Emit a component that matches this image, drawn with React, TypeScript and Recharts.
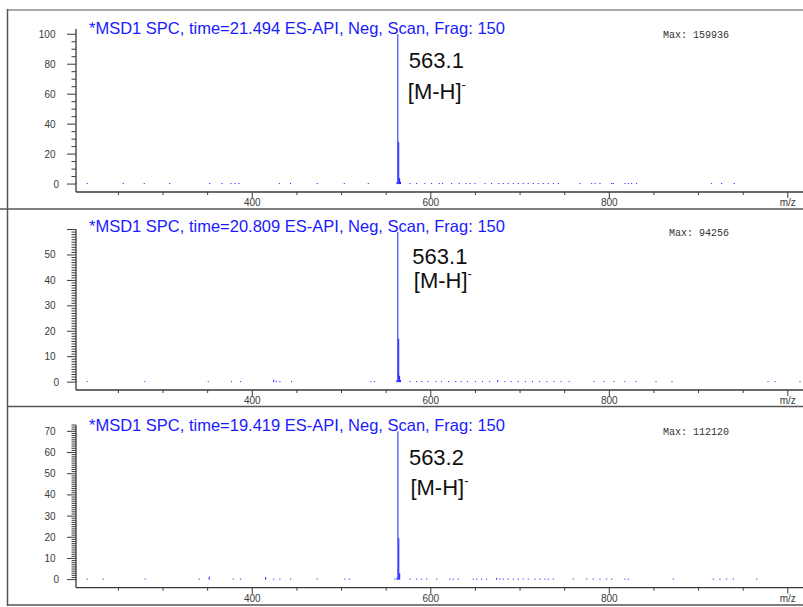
import React from 'react';
import { BarChart, Bar, XAxis, YAxis, LabelList } from 'recharts';

const SANS = "'Liberation Sans', Arial, Helvetica, sans-serif";
const MONO = "'Liberation Mono', 'Courier New', monospace";
const INK = '#3a3a3a';
const TRACE = '#1a1aff';
const TITLE = '#1a1aff';

// m/z axis: minor ticks every 50, labels at 400/600/800, axis name at 1000
const mzTicks = [250, 300, 350, 400, 450, 500, 550, 600, 650, 700, 750, 800, 850, 900, 950, 1000];
const mzLabelled = [400, 600, 800];
const mzDomain: [number, number] = [202.5, 1017];

// scan headers
const scanTimes = ['21.494', '20.809', '19.419'];
const scanMax = [159936, 94256, 112120];
const ionTag = '[M-H]';

// [m/z, relative abundance] sticks for each scan
const scan1Peaks: [number, number][] = [
  [202.5, 0.7], [215.1, 0.7], [255.5, 0.7], [279.0, 0.7], [307.5, 0.7], [352.3, 0.7],
  [366.0, 0.7], [376.1, 0.7], [380.6, 0.7], [385.1, 0.7], [430.3, 0.7], [443.0, 0.7],
  [472.8, 0.7], [503.1, 0.7], [530.0, 0.7], [562.1, 1.2], [563.1, 100], [564.1, 28],
  [565.1, 4.0], [566.1, 1.5], [576.7, 0.7], [584.2, 0.7], [593.5, 0.7], [601.0, 0.7],
  [609.5, 0.7], [613.3, 0.7], [623.4, 0.7], [631.9, 0.7], [639.4, 0.7], [643.9, 0.7],
  [649.5, 0.7], [660.7, 0.7], [668.2, 0.7], [676.4, 0.7], [681.2, 0.7], [686.8, 0.7],
  [692.4, 0.7], [698.0, 0.7], [703.6, 0.7], [709.2, 0.7], [714.8, 0.7], [720.4, 0.7],
  [726.0, 0.7], [731.7, 0.7], [737.3, 0.7], [742.9, 0.7], [767.2, 0.7], [780.3, 0.7],
  [784.0, 0.7], [789.6, 0.7], [802.7, 0.7], [804.5, 0.7], [817.6, 0.7], [821.3, 0.7],
  [825.1, 0.7], [830.7, 0.7], [914.7, 0.7], [925.9, 0.7], [940.0, 0.7],
];

const scan2Peaks: [number, number][] = [
  [202.5, 0.4], [215.0, 0.4], [279.8, 0.4], [350.7, 0.4], [376.9, 0.4], [387.0, 0.4],
  [424.0, 0.9], [427.0, 0.5], [431.0, 0.4], [444.0, 0.4], [533.0, 0.4], [537.0, 0.4],
  [562.1, 0.8], [563.1, 59], [564.1, 17], [565.1, 2.5], [566.1, 0.8], [576.7, 0.4],
  [584.0, 0.4], [590.0, 0.4], [597.0, 0.4], [606.0, 0.4], [612.0, 0.4], [620.0, 0.4],
  [628.0, 0.4], [634.0, 0.4], [641.0, 0.4], [650.0, 0.4], [658.0, 0.4], [666.0, 0.4],
  [675.0, 0.8], [683.0, 0.4], [690.0, 0.4], [698.0, 0.4], [706.0, 0.4], [714.0, 0.4],
  [722.0, 0.4], [730.0, 0.4], [738.0, 0.4], [746.0, 0.4], [755.0, 0.4], [782.9, 0.4],
  [794.1, 0.4], [805.3, 0.4], [817.6, 0.4], [830.0, 0.4], [852.4, 0.4], [870.3, 0.4],
  [977.9, 0.4], [985.7, 0.4], [1013.7, 0.4],
];

const scan3Peaks: [number, number][] = [
  [202.5, 0.5], [215.0, 0.5], [233.0, 0.5], [280.0, 0.5], [340.6, 0.5], [351.8, 1.4],
  [378.7, 0.5], [387.0, 0.5], [415.0, 1.2], [424.0, 0.5], [431.0, 0.5], [443.0, 0.5],
  [472.8, 0.5], [503.9, 0.5], [508.7, 0.5], [559.9, 0.5], [562.2, 0.9], [563.2, 70],
  [564.2, 19.5], [565.2, 3.0], [576.7, 0.5], [584.2, 0.5], [589.8, 0.5], [595.4, 0.5],
  [606.6, 0.5], [621.5, 0.5], [625.2, 0.5], [630.8, 0.5], [647.6, 0.5], [651.4, 0.5],
  [657.0, 0.5], [662.6, 0.5], [673.8, 0.8], [677.5, 0.5], [681.2, 0.5], [686.8, 0.5],
  [692.4, 0.5], [698.0, 0.5], [703.6, 0.5], [709.2, 0.5], [716.8, 0.5], [722.4, 0.5],
  [728.0, 0.5], [731.7, 0.5], [737.3, 0.5], [759.7, 0.5], [774.7, 0.5], [782.0, 0.5],
  [789.6, 0.5], [797.0, 0.5], [802.7, 0.5], [817.6, 0.5], [821.3, 0.5], [871.7, 0.5],
  [916.5, 0.5], [924.0, 0.5], [931.5, 0.5], [939.0, 0.5], [965.2, 0.5],
];

// abundance axis ticks per scan
const scan1YTicks = [0, 5, 10, 15, 20, 25, 30, 35, 40, 45, 50, 55, 60, 65, 70, 75, 80, 85, 90, 95, 100];
const scan1YLabels = [0, 20, 40, 60, 80, 100];
const scan2YTicks = Array.from({ length: 61 }, (_, i) => i);
const scan2YLabels = [0, 10, 20, 30, 40, 50];
const scan3YTicks = Array.from({ length: 74 }, (_, i) => i);
const scan3YLabels = [0, 10, 20, 30, 40, 50, 60, 70];

type Row = { mz: number; abund: number; tag?: string };

// the base peak carries its m/z as an annotation
const toRows = (peaks: [number, number][]): Row[] => {
  const top = peaks.reduce((a, b) => (b[1] > a[1] ? b : a));
  return peaks.map(([mz, abund]) => ({ mz, abund, tag: mz === top[0] ? mz.toFixed(1) : undefined }));
};

const Stick = (p: any) => {
  const { x, y, width, height } = p;
  if (!Number.isFinite(x) || !Number.isFinite(y) || !(height > 0)) return null;
  const cx = x + width / 2;
  return <rect x={cx - 0.5} y={y} width={1} height={height} fill={TRACE} />;
};

const MzTick = (p: any) => {
  const { x, y, payload } = p;
  const v = payload.value as number;
  const major = v % 200 === 0;
  const label = v === 1000 ? 'm/z' : mzLabelled.includes(v) ? String(v) : null;
  return (
    <g>
      <line x1={x} x2={x} y1={y} y2={y + (major ? 6 : 3)} stroke={INK} strokeWidth={1} />
      {label && (
        <text x={x} y={y + 14} textAnchor="middle" fontFamily={SANS} fontSize={10} fill={INK}>
          {label}
        </text>
      )}
    </g>
  );
};

const AbundTick = (p: any) => {
  const { x, y, payload, majorStep, labels } = p;
  const v = payload.value as number;
  const major = v % majorStep === 0;
  const showLabel = labels.includes(v);
  return (
    <g>
      <line x1={x} x2={x - (major ? 9 : 4.5)} y1={y} y2={y} stroke={INK} strokeWidth={1} />
      {showLabel && (
        <text x={v === 0 ? x - 17 : x - 20.5} y={y + 3.5} textAnchor="end" fontFamily={SANS} fontSize={10} fill={INK}>
          {v}
        </text>
      )}
    </g>
  );
};

const PeakTag = (p: any) => {
  const { x, y, width, value, dx1, dy1, dx2, dy2 } = p;
  if (!value) return null;
  const cx = x + width / 2;
  return (
    <g>
      <text x={cx + dx1} y={y + dy1} fontFamily={SANS} fontSize={22} fill="#111">
        {value}
      </text>
      <text x={cx + dx2} y={y + dy2} fontFamily={SANS} fontSize={22} fill="#111">
        {ionTag}
        <tspan dy={-10} fontSize={13}>-</tspan>
      </text>
    </g>
  );
};

type PanelProps = {
  top: number;
  height: number;
  plotTop: number;
  axisHeight: number;
  peaks: [number, number][];
  yDomain: [number, number];
  yTicks: number[];
  yLabels: number[];
  majorStep: number;
  tag: { dx1: number; dy1: number; dx2: number; dy2: number };
};

function SpectrumPanel({ top, height, plotTop, axisHeight, peaks, yDomain, yTicks, yLabels, majorStep, tag }: PanelProps) {
  const rows = toRows(peaks);
  return (
    <div style={{ position: 'absolute', left: 0, top, width: 803, height }}>
      <BarChart
        width={803}
        height={height}
        data={rows}
        margin={{ top: plotTop, right: 0, bottom: 0, left: 0 }}
        barSize={1}
      >
        <XAxis
          dataKey="mz"
          type="number"
          domain={mzDomain}
          allowDataOverflow
          ticks={mzTicks}
          interval={0}
          height={axisHeight}
          tickSize={0}
          tickMargin={0}
          tickLine={false}
          axisLine={{ stroke: INK, strokeWidth: 1.3 }}
          tick={<MzTick />}
        />
        <YAxis
          type="number"
          domain={yDomain}
          allowDataOverflow
          ticks={yTicks}
          interval={0}
          width={76}
          tickSize={0}
          tickMargin={0}
          tickLine={false}
          axisLine={{ stroke: INK, strokeWidth: 1.3 }}
          tick={<AbundTick majorStep={majorStep} labels={yLabels} />}
        />
        <Bar dataKey="abund" fill={TRACE} isAnimationActive={false} shape={<Stick />}>
          <LabelList dataKey="tag" content={<PeakTag {...tag} />} />
        </Bar>
      </BarChart>
    </div>
  );
}

const titleBaselines = [34, 232, 431];
const maxPos = [
  { x: 663, y: 38 },
  { x: 669, y: 236 },
  { x: 663, y: 435 },
];

export default function App() {
  return (
    <div style={{ position: 'absolute', left: 0, top: 0, width: 803, height: 607, background: '#fff', overflow: 'hidden' }}>
      <SpectrumPanel
        top={0}
        height={210}
        plotTop={29}
        axisHeight={18}
        peaks={scan1Peaks}
        yDomain={[-5.3, 103.5]}
        yTicks={scan1YTicks}
        yLabels={scan1YLabels}
        majorStep={20}
        tag={{ dx1: 11, dy1: 34, dx2: 10, dy2: 65 }}
      />
      <SpectrumPanel
        top={209}
        height={200}
        plotTop={20.3}
        axisHeight={19}
        peaks={scan2Peaks}
        yDomain={[-3.1, 60.1]}
        yTicks={scan2YTicks}
        yLabels={scan2YLabels}
        majorStep={10}
        tag={{ dx1: 14.5, dy1: 32, dx2: 16, dy2: 56 }}
      />
      <SpectrumPanel
        top={406}
        height={201}
        plotTop={19}
        axisHeight={19.3}
        peaks={scan3Peaks}
        yDomain={[-3.8, 73]}
        yTicks={scan3YTicks}
        yLabels={scan3YLabels}
        majorStep={10}
        tag={{ dx1: 11, dy1: 33.6, dx2: 12.5, dy2: 63.6 }}
      />
      <svg width={803} height={607} style={{ position: 'absolute', left: 0, top: 0, pointerEvents: 'none' }}>
        <line x1={7} y1={10} x2={803} y2={10} stroke="#a8a8a8" strokeWidth={2} />
        <line x1={7.5} y1={9} x2={7.5} y2={606} stroke="#555" strokeWidth={1.5} />
        <line x1={0} y1={209} x2={803} y2={209} stroke="#555" strokeWidth={1.5} />
        <line x1={7} y1={406.5} x2={803} y2={406.5} stroke="#555" strokeWidth={1.5} />
        <line x1={7} y1={605} x2={803} y2={605} stroke="#555" strokeWidth={1.5} />
        {scanTimes.map((t, i) => (
          <text key={t} x={89} y={titleBaselines[i]} fontFamily={SANS} fontSize={16.5} fill={TITLE}>
            {`*MSD1 SPC, time=${t} ES-API, Neg, Scan, Frag: 150`}
          </text>
        ))}
        {scanMax.map((m, i) => (
          <text key={m} x={maxPos[i].x} y={maxPos[i].y} fontFamily={MONO} fontSize={10} fill="#333">
            {`Max: ${m}`}
          </text>
        ))}
      </svg>
    </div>
  );
}
